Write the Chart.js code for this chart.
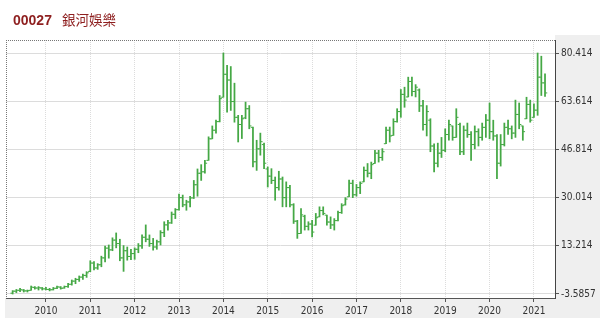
<!DOCTYPE html>
<html>
<head>
<meta charset="utf-8">
<script src="https://cdn.jsdelivr.net/npm/chart.js@4"></script>
<style>
html, body { margin: 0; padding: 0; background: #fff; }
#wrap { position: relative; width: 600px; height: 326px; }
#title { position: absolute; left: 13px; top: 9px; color: #8e1f1f; font-size: 14px; font-family: 'Liberation Sans', Arial, sans-serif; white-space: nowrap; }
#title b { margin-right: 10px; }
#title span { font-family: 'Noto Sans CJK TC', sans-serif; font-size: 13.5px; }
</style>
</head>
<body>
<div id="wrap">
  <canvas id="myChart" width="600" height="326"></canvas>
  <div id="title"><b>00027</b><span>銀河娛樂</span></div>
</div>
<script>
// monthly bars, first one is 2009-04 (9 months before Jan 2010)
const firstOffset = -9;
const years = ['2010', '2011', '2012', '2013', '2014', '2015', '2016', '2017', '2018', '2019', '2020', '2021'];
const priceTicks = [-3.5857, 13.214, 30.014, 46.814, 63.614, 80.414];

const highs = [
    -2.4, -2.0, -1.6, -2.0, -2.2, -0.8, -1.0, -1.0, -1.3,           // 2009
    -1.3, -1.6, -1.3, -0.8, -1.0, -0.8, 0.1, 1.3, 1.9, 2.7, 3.4, 4.2, // 2010
    8.0, 7.7, 7.0, 9.6, 13.1, 13.5, 16.0, 17.7, 15.5, 13.3, 12.8, 12.0,
    12.5, 14.0, 17.0, 20.5, 17.0, 15.8, 15.2, 18.5, 21.6, 22.1, 25.0, 26.2,
    31.2, 30.9, 29.1, 30.5, 36.0, 40.0, 41.5, 43.0, 51.2, 55.0, 57.0, 65.6,
    80.414, 76.1, 75.7, 69.9, 58.7, 58.7, 63.3, 62.1, 54.6, 50.0, 52.5, 49.0,
    40.7, 40.1, 37.2, 39.2, 37.2, 35.5, 34.3, 27.9, 22.1, 26.2, 23.9, 21.6,
    22.1, 24.5, 26.8, 26.8, 23.9, 23.3, 22.7, 25.3, 27.9, 30.0, 36.1, 36.1,
    34.6, 35.5, 40.7, 41.9, 42.4, 46.5, 46.5, 47.1, 54.6, 54.6, 57.5, 61.0,
    67.7, 68.5, 72.0, 72.0, 69.4, 67.9, 63.9, 62.1, 57.5, 48.8, 49.0, 51.0,
    54.0, 57.0, 55.0, 61.0, 56.0, 55.0, 56.0, 53.0, 55.0, 54.0, 56.0, 59.0,
    63.0, 57.0, 52.0, 52.0, 56.0, 57.0, 55.0, 64.0, 63.0, 55.0, 65.0, 64.0,
    62.7, 80.414, 79.3, 73.2
];
const lows = [
    -3.5857, -3.1, -2.8, -2.9, -2.9, -2.3, -1.9, -2.2, -2.2,
    -2.2, -2.5, -2.2, -1.7, -1.9, -1.6, -1.3, -0.5, 0.0, 0.8, 1.5, 2.2,
    4.2, 4.8, 5.0, 5.9, 7.6, 8.9, 11.5, 12.5, 8.0, 4.3, 8.2, 8.4,
    8.5, 10.8, 12.3, 14.6, 13.0, 11.7, 12.0, 13.5, 16.4, 18.7, 21.0, 22.7,
    25.6, 26.8, 25.6, 26.8, 29.7, 30.5, 36.0, 38.5, 43.0, 50.5, 52.5, 56.4,
    65.0, 59.8, 60.4, 56.3, 49.4, 50.6, 57.5, 54.0, 40.7, 39.5, 44.8, 40.1,
    33.7, 34.9, 29.1, 32.6, 26.8, 26.8, 26.8, 21.0, 15.8, 17.5, 18.7, 18.7,
    16.3, 20.4, 23.3, 24.0, 20.4, 19.2, 18.7, 21.9, 24.5, 27.4, 30.3, 30.0,
    30.5, 31.4, 35.5, 37.2, 36.6, 41.9, 42.4, 43.0, 48.8, 49.4, 51.7, 56.3,
    58.0, 61.5, 65.1, 65.5, 65.1, 60.0, 53.5, 51.5, 46.0, 39.0, 40.7, 44.0,
    46.0, 50.0, 50.0, 51.0, 45.0, 45.0, 51.0, 43.0, 47.0, 48.0, 50.0, 51.0,
    50.5, 50.0, 36.6, 41.0, 48.0, 52.0, 50.5, 51.0, 54.0, 50.0, 57.5, 56.3,
    58.0, 58.7, 65.6, 65.3
];
const opens = [
    -3.3, -2.6, -2.3, -2.2, -2.5, -2.3, -1.3, -1.5, -1.5,
    -1.8, -2.0, -2.1, -1.6, -1.2, -1.5, -1.0, -0.2, 0.9, 1.5, 2.3, 2.9,
    4.3, 7.2, 5.5, 6.6, 9.0, 12.4, 11.8, 15.2, 14.0, 9.0, 11.5, 9.5,
    10.5, 12.0, 13.2, 16.2, 15.5, 14.0, 12.8, 14.6, 17.8, 20.5, 21.2, 24.2,
    25.8, 30.0, 27.5, 28.5, 29.9, 34.5, 38.5, 39.0, 43.0, 50.5, 53.5, 56.5,
    65.0, 73.0, 71.0, 63.5, 58.0, 55.5, 57.8, 61.0, 54.5, 42.5, 47.0, 48.5,
    40.0, 37.5, 36.0, 33.5, 36.5, 30.0, 33.5, 27.5, 21.8, 17.5, 23.5, 20.0,
    20.8, 20.4, 23.3, 25.5, 23.9, 21.5, 20.5, 22.0, 24.8, 27.5, 30.3, 35.0,
    31.0, 33.5, 35.5, 39.5, 38.5, 41.9, 45.5, 44.0, 48.8, 53.5, 51.7, 56.5,
    60.0, 66.0, 65.1, 70.5, 67.0, 67.5, 62.0, 55.5, 57.0, 48.0, 42.0, 45.5,
    46.5, 52.0, 55.0, 51.0, 55.5, 46.0, 53.5, 52.0, 48.5, 53.0, 51.0, 54.5,
    57.0, 53.0, 51.5, 42.0, 48.5, 54.5, 54.0, 52.5, 59.0, 55.0, 57.5, 62.5,
    58.0, 60.5, 72.0, 70.0
];
const closes = [
    -2.6, -2.3, -2.1, -2.5, -2.4, -1.2, -1.5, -1.4, -1.8,
    -2.0, -2.1, -1.6, -1.1, -1.6, -1.0, -0.2, 0.9, 1.5, 2.3, 2.9, 3.8,
    7.2, 5.5, 6.6, 9.0, 12.4, 11.8, 15.2, 14.0, 9.0, 11.5, 9.5, 10.5,
    12.0, 13.2, 16.2, 15.5, 14.0, 12.8, 14.6, 17.8, 20.5, 21.2, 24.2, 25.8,
    30.0, 27.5, 28.5, 29.9, 34.5, 38.5, 39.0, 42.0, 50.5, 53.5, 56.5, 64.5,
    73.0, 71.0, 63.5, 58.0, 55.5, 57.5, 61.0, 55.0, 42.5, 47.0, 49.5, 42.0,
    37.5, 36.0, 33.5, 36.5, 30.0, 33.5, 27.5, 21.8, 17.5, 24.0, 20.0, 20.8,
    18.0, 23.0, 25.5, 24.5, 21.5, 20.5, 22.0, 24.8, 27.2, 29.5, 35.0, 31.0,
    33.5, 35.0, 39.5, 38.5, 41.5, 45.5, 44.0, 46.0, 53.5, 51.5, 56.5, 60.0,
    66.0, 64.0, 70.5, 67.0, 68.5, 62.0, 55.5, 60.0, 48.0, 42.0, 45.5, 46.5,
    52.0, 55.5, 51.0, 58.0, 46.0, 53.5, 52.0, 48.5, 53.0, 51.0, 54.5, 57.0,
    53.0, 51.5, 42.0, 48.5, 54.5, 54.0, 52.5, 59.0, 55.5, 53.0, 62.5, 57.0,
    60.5, 72.0, 70.0, 66.5
];

const barColor = '#45a845';
const tickFont = { family: "'DejaVu Sans Condensed', 'DejaVu Sans', sans-serif", size: 10 };

// grey axis panels and the dotted top/left frame
const framePlugin = {
    id: 'frame',
    beforeDraw(chart) {
        const ctx = chart.ctx;
        const a = chart.chartArea;
        ctx.save();
        ctx.fillStyle = '#efefef';
        ctx.fillRect(a.right, 35, chart.width - a.right, 318 - 35);
        ctx.fillRect(5, a.bottom, a.right - 5, 318 - a.bottom);
        ctx.restore();
    },
    beforeDatasetsDraw(chart) {
        const ctx = chart.ctx;
        const a = chart.chartArea;
        ctx.save();
        ctx.strokeStyle = '#777';
        ctx.lineWidth = 1;
        ctx.setLineDash([1, 1]);
        ctx.beginPath();
        ctx.moveTo(a.left, a.top + 0.5);
        ctx.lineTo(a.right, a.top + 0.5);
        ctx.moveTo(a.left + 0.5, a.top);
        ctx.lineTo(a.left + 0.5, a.bottom);
        ctx.stroke();
        ctx.restore();
    }
};

const ctx = document.getElementById('myChart').getContext('2d');
const myChart = new Chart(ctx, {
    type: 'bar',
    data: {
        datasets: [{
            type: 'bar',
            data: highs.map((h, i) => ({ x: i + firstOffset, y: [lows[i], h] })),
            backgroundColor: barColor,
            barThickness: 1.1,
            grouped: false
        }, {
            type: 'scatter',
            data: opens.map((o, i) => ({ x: i + firstOffset - 0.33, y: o })),
            pointStyle: 'line',
            radius: 1,
            borderColor: barColor,
            borderWidth: 1
        }, {
            type: 'scatter',
            data: closes.map((c, i) => ({ x: i + firstOffset + 0.33, y: c })),
            pointStyle: 'line',
            radius: 1,
            borderColor: barColor,
            borderWidth: 1
        }]
    },
    options: {
        responsive: false,
        animation: false,
        events: [],
        layout: { padding: { left: 6, top: 40, right: 0, bottom: 0 } },
        plugins: { legend: { display: false }, tooltip: { enabled: false } },
        scales: {
            x: {
                type: 'linear',
                min: -10.8,
                max: 137.7,
                offset: false,
                afterBuildTicks: s => { s.ticks = years.map((y, k) => ({ value: k * 12 })); },
                afterFit: s => { s.height = 28; },
                grid: { offset: false, color: '#dcdcdc', tickLength: 4, tickColor: '#555' },
                border: { color: '#555', dash: [1, 1] },
                ticks: { autoSkip: false, maxRotation: 0, padding: 3, color: '#333', font: tickFont,
                    callback: (v, k) => years[k] }
            },
            y: {
                position: 'right',
                min: -4.98,
                max: 84.95,
                afterBuildTicks: s => { s.ticks = priceTicks.map(v => ({ value: v })); },
                afterFit: s => { s.width = 45; },
                grid: { color: '#dcdcdc', tickLength: 4, tickColor: '#555' },
                border: { color: '#444' },
                ticks: { padding: 2, color: '#333', font: tickFont,
                    callback: (v, k) => String(priceTicks[k]) }
            }
        }
    },
    plugins: [framePlugin]
});
</script>
</body>
</html>
